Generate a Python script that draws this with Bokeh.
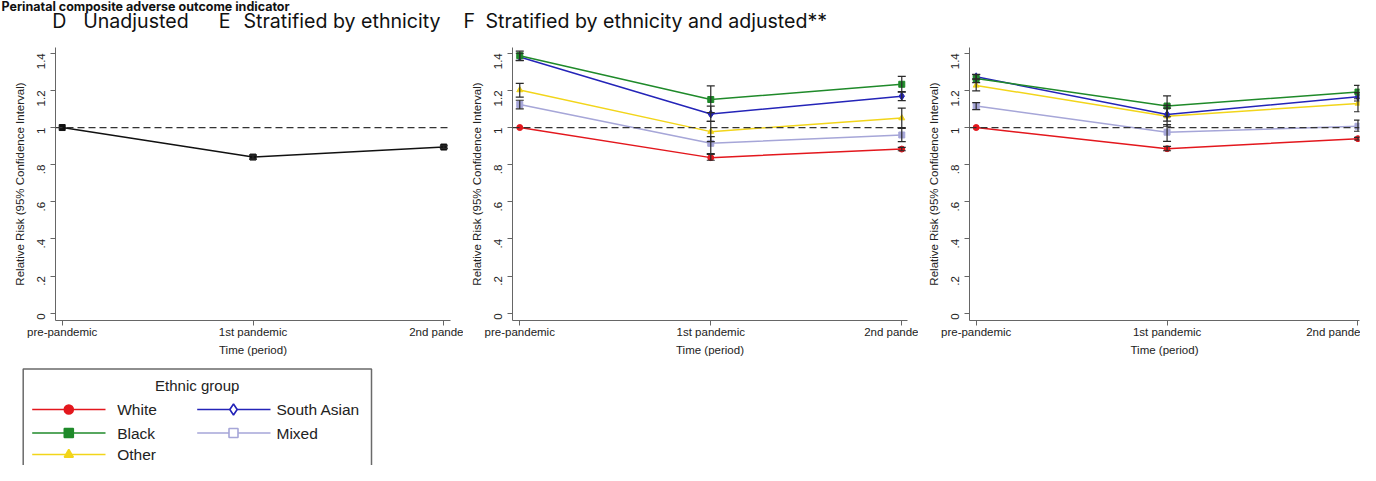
import math
from bokeh.plotting import figure
from bokeh.layouts import column, row
from bokeh.models import (Range1d, FixedTicker, Span, Whisker, TeeHead,
                          ColumnDataSource, Label)
from bokeh.embed import file_html
from bokeh.resources import INLINE

# ---------------- data ----------------
periods = ["pre-pandemic", "1st pandemic", "2nd pandemic"]
period_tick_labels = ["pre-pandemic", "1st pandemic", "2nd pande"]
y_ticks = [0, 0.2, 0.4, 0.6, 0.8, 1.0, 1.2, 1.4]
y_tick_labels = ["0", ".2", ".4", ".6", ".8", "1", "1.2", "1.4"]

groups = ["White", "Black", "Other", "South Asian", "Mixed"]
group_colors = ["#e3171d", "#1f8a2a", "#f2d51a", "#2424b8", "#a6a6d8"]
group_markers = ["circle", "square", "triangle", "diamond", "square"]
legend_hollow = [False, False, False, True, True]

# Panel D: unadjusted
d_rr = [1.000, 0.841, 0.895]
d_lo = [1.000, 0.830, 0.888]
d_hi = [1.000, 0.852, 0.902]

# Panel E: stratified by ethnicity
e_white_rr = [1.000, 0.838, 0.884]
e_white_lo = [1.000, 0.824, 0.875]
e_white_hi = [1.000, 0.855, 0.893]
e_black_rr = [1.387, 1.151, 1.233]
e_black_lo = [1.362, 1.080, 1.190]
e_black_hi = [1.411, 1.224, 1.275]
e_other_rr = [1.202, 0.978, 1.051]
e_other_lo = [1.164, 0.924, 0.996]
e_other_hi = [1.238, 1.033, 1.105]
e_sasian_rr = [1.380, 1.073, 1.169]
e_sasian_lo = [1.360, 1.033, 1.145]
e_sasian_hi = [1.400, 1.115, 1.193]
e_mixed_rr = [1.124, 0.915, 0.960]
e_mixed_lo = [1.100, 0.860, 0.924]
e_mixed_hi = [1.147, 0.951, 1.000]

# Panel F: stratified by ethnicity and adjusted
f_white_rr = [1.000, 0.886, 0.940]
f_white_lo = [1.000, 0.875, 0.933]
f_white_hi = [1.000, 0.899, 0.947]
f_black_rr = [1.264, 1.116, 1.191]
f_black_lo = [1.242, 1.058, 1.155]
f_black_hi = [1.287, 1.170, 1.227]
f_other_rr = [1.227, 1.061, 1.130]
f_other_lo = [1.197, 1.007, 1.085]
f_other_hi = [1.260, 1.119, 1.188]
f_sasian_rr = [1.273, 1.070, 1.166]
f_sasian_lo = [1.262, 1.035, 1.143]
f_sasian_hi = [1.285, 1.105, 1.188]
f_mixed_rr = [1.116, 0.975, 1.007]
f_mixed_lo = [1.097, 0.926, 0.980]
f_mixed_hi = [1.134, 1.016, 1.040]

e_series = {
    "White": (e_white_rr, e_white_lo, e_white_hi),
    "Black": (e_black_rr, e_black_lo, e_black_hi),
    "Other": (e_other_rr, e_other_lo, e_other_hi),
    "South Asian": (e_sasian_rr, e_sasian_lo, e_sasian_hi),
    "Mixed": (e_mixed_rr, e_mixed_lo, e_mixed_hi),
}
f_series = {
    "White": (f_white_rr, f_white_lo, f_white_hi),
    "Black": (f_black_rr, f_black_lo, f_black_hi),
    "Other": (f_other_rr, f_other_lo, f_other_hi),
    "South Asian": (f_sasian_rr, f_sasian_lo, f_sasian_hi),
    "Mixed": (f_mixed_rr, f_mixed_lo, f_mixed_hi),
}

FONT = "Liberation Sans"
TXT = "#222222"
AX = "#666666"
CI = "#2a2a2a"
draw_order = ["Mixed", "White", "Other", "South Asian", "Black"]


def make_panel(width, b_left, b_right, x_start, x_end):
    p = figure(width=width, height=328, output_backend="svg", toolbar_location=None,
               title=None,
               x_range=Range1d(x_start, x_end), y_range=Range1d(-0.039, 1.431),
               min_border_left=b_left, min_border_right=b_right,
               min_border_top=15, min_border_bottom=40)
    p.outline_line_color = None
    p.grid.visible = False
    p.background_fill_color = "white"
    p.border_fill_color = "white"
    for ax in (p.xaxis[0], p.yaxis[0]):
        ax.axis_line_color = AX
        ax.major_tick_line_color = AX
        ax.major_tick_out = 5
        ax.major_tick_in = 0
        ax.minor_tick_line_color = None
        ax.major_label_text_font = FONT
        ax.major_label_text_font_size = "11.5px"
        ax.major_label_text_color = TXT
        ax.axis_label_text_font = FONT
        ax.axis_label_text_font_size = "11.5px"
        ax.axis_label_text_font_style = "normal"
        ax.axis_label_text_color = TXT
    xa = p.xaxis[0]
    xa.ticker = FixedTicker(ticks=list(range(len(periods))))
    xa.major_label_overrides = {i: s for i, s in enumerate(period_tick_labels)}
    xa.axis_label = "Time (period)"
    xa.major_label_standoff = 0
    xa.axis_label_standoff = 3
    ya = p.yaxis[0]
    ya.ticker = FixedTicker(ticks=y_ticks)
    ov = {t: s for t, s in zip(y_ticks, y_tick_labels)}
    ov.update({1: "1", 0: "0"})
    ya.major_label_overrides = ov
    ya.major_label_orientation = math.pi / 2
    ya.axis_label = "Relative Risk (95% Confidence Interval)"
    ya.major_label_standoff = 9
    ya.axis_label_standoff = 5
    p.add_layout(Span(location=1, dimension="width", line_color="#333333",
                      line_dash="7 4", line_width=1.3))
    return p


def add_series(p, rr, lo, hi, color, marker, size):
    x = list(range(len(periods)))
    p.line(x, rr, line_color=color, line_width=1.5)
    cx = [xi for xi, l, h in zip(x, lo, hi) if h > l]
    cl = [l for l, h in zip(lo, hi) if h > l]
    ch = [h for l, h in zip(lo, hi) if h > l]
    src = ColumnDataSource(data=dict(x=cx, lo=cl, hi=ch))
    p.add_layout(Whisker(source=src, base="x", lower="lo", upper="hi",
                         line_color=CI, line_width=1.2, level="annotation",
                         upper_head=TeeHead(size=8, line_color=CI, line_width=1.2),
                         lower_head=TeeHead(size=8, line_color=CI, line_width=1.2)))
    p.scatter(x, rr, marker=marker, size=size, fill_color=color, line_color=color)


# Panel D  (page x 0..463, axis line at 55)
pD = make_panel(463, 55, 13, -0.035, 2.035)
add_series(pD, d_rr, d_lo, d_hi, "#111111", "square", 6)

# Panel E  (page x 463..918, axis line at 512)
pE = make_panel(455, 49, 11, -0.038, 2.03)
for g in draw_order:
    i = groups.index(g)
    rr, lo, hi = e_series[g]
    add_series(pE, rr, lo, hi, group_colors[i], group_markers[i],
               8 if group_markers[i] == "diamond" else 6)

# Panel F  (page x 918..1360, axis line at 969)
pF = make_panel(442, 51, 1, -0.035, 2.008)
for g in draw_order:
    i = groups.index(g)
    rr, lo, hi = f_series[g]
    add_series(pF, rr, lo, hi, group_colors[i], group_markers[i],
               8 if group_markers[i] == "diamond" else 6)

# ---------------- header strip ----------------
hdr = figure(width=1360, height=32, output_backend="svg", toolbar_location=None,
             title=None,
             x_range=Range1d(0, 1360), y_range=Range1d(32, 0),
             x_axis_location=None, y_axis_location=None, min_border=0)
hdr.outline_line_color = None
hdr.grid.visible = False
hdr.add_layout(Label(x=1, y=5.6, text="Perinatal composite adverse outcome indicator",
                     text_font="Inter", text_font_size="12.5px",
                     text_font_style="bold", text_color="#111111",
                     text_baseline="middle"))
header_texts = [("D", 51.7), ("Unadjusted", 82.7), ("E", 218.3),
                ("Stratified by ethnicity", 243), ("F", 463),
                ("Stratified by ethnicity and adjusted**", 485)]
for t, xx in header_texts:
    hdr.add_layout(Label(x=xx, y=20.0, text=t, text_font="Inter",
                         text_font_size="19.6px", text_color="#111111",
                         text_baseline="middle"))

# ---------------- legend ----------------
leg = figure(width=400, height=105, output_backend="svg", toolbar_location=None,
             title=None,
             x_range=Range1d(0, 400), y_range=Range1d(105, 0),
             x_axis_location=None, y_axis_location=None, min_border=0)
leg.outline_line_color = None
leg.grid.visible = False
leg.quad(left=[22.7], right=[371], top=[8.5], bottom=[140],
         fill_color="white", line_color="#6a6a6a", line_width=1.5)
leg.add_layout(Label(x=196.7, y=25, text="Ethnic group", text_font=FONT,
                     text_font_size="15px", text_color=TXT,
                     text_align="center", text_baseline="middle"))
leg_col = [0, 0, 0, 1, 1]
leg_row = [0, 1, 2, 0, 1]
col_x0 = [31.7, 196.7]
col_x1 = [105.0, 270.0]
col_mk = [68.3, 233.0]
col_lab = [116.7, 276.0]
row_y = [49.0, 72.5, 94.0]
for i, g in enumerate(groups):
    c, r = leg_col[i], leg_row[i]
    yy = row_y[r]
    leg.line([col_x0[c], col_x1[c]], [yy, yy], line_color=group_colors[i], line_width=1.6)
    leg.scatter([col_mk[c]], [yy], marker=group_markers[i],
                size=11 if group_markers[i] == "diamond" else 9,
                fill_color="white" if legend_hollow[i] else group_colors[i],
                line_color=group_colors[i], line_width=1.6)
    leg.add_layout(Label(x=col_lab[c], y=yy, text=g, text_font=FONT,
                         text_font_size="15.5px", text_color=TXT,
                         text_baseline="middle"))

layout = column(hdr, row(pD, pE, pF), leg)
open("out.html", "w").write(file_html(layout, INLINE))
